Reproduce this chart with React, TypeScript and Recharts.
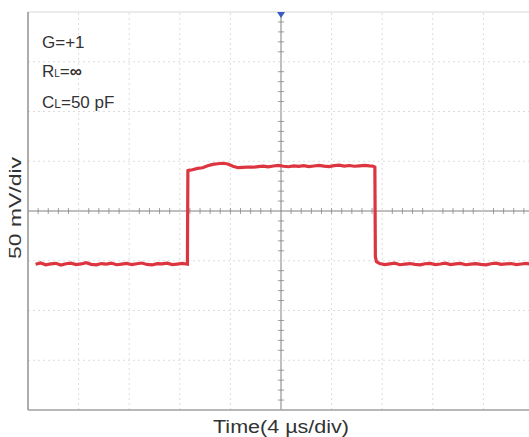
import React from 'react';
import { ComposedChart, Line, XAxis, YAxis, ReferenceLine, ReferenceDot } from 'recharts';

// time in µs, voltage in mV
const timeUs = [
  -19.4, -19.0, -18.6, -18.2, -17.8, -17.4, -17.0, -16.6, -16.2, -15.8,
  -15.4, -15.0, -14.6, -14.2, -13.8, -13.4, -13.0, -12.6, -12.2, -11.8,
  -11.4, -11.0, -10.6, -10.2, -9.8, -9.4, -9.0, -8.6, -8.2, -7.8, -7.4,
  -7.36, -7.3, -7.0, -6.6, -6.2, -5.8, -5.4, -5.0, -4.6, -4.2, -3.8,
  -3.4, -3.0, -2.6, -2.2, -1.8, -1.4, -1.0, -0.6, -0.2, 0.2,
  0.6, 1.0, 1.4, 1.8, 2.2, 2.6, 3.0, 3.4, 3.8, 4.2,
  4.6, 5.0, 5.4, 5.8, 6.2, 6.6, 7.0, 7.3, 7.42, 7.46,
  7.55, 7.8, 8.2, 8.6, 9.0, 9.4, 9.8, 10.2, 10.6, 11.0,
  11.4, 11.8, 12.2, 12.6, 13.0, 13.4, 13.8, 14.2, 14.6, 15.0,
  15.4, 15.8, 16.2, 16.6, 17.0, 17.4, 17.8, 18.2, 18.6, 19.0, 19.4, 19.8,
];
const voltMv = [
  -53.5, -52.2, -54.0, -53.1, -52.6, -54.3, -53.0, -52.4, -53.8, -53.2,
  -52.0, -53.6, -54.1, -52.8, -53.3, -52.5, -54.0, -53.4, -52.7, -53.9,
  -53.0, -52.3, -53.7, -54.2, -52.9, -53.1, -52.4, -53.8, -53.3, -52.7, -53.5,
  40.5, 40.8, 41.5, 42.8, 43.5, 45.5, 46.8, 47.5, 48.0, 47.2, 45.0,
  43.5, 43.8, 44.2, 44.0, 44.6, 45.0, 44.3, 45.2, 45.8, 45.0,
  44.5, 45.3, 44.8, 45.5, 44.6, 45.2, 45.9, 45.1, 44.7, 45.6,
  46.0, 45.2, 45.7, 45.0, 45.4, 45.9, 45.3, 45.0, 44.0, -46.0,
  -51.0, -52.8, -53.9, -53.2, -52.5, -54.0, -53.4, -52.8, -53.6, -54.2,
  -53.0, -52.6, -53.8, -53.3, -52.4, -53.9, -53.1, -52.7, -54.0, -53.4,
  -52.9, -53.7, -54.1, -53.0, -52.5, -53.6, -53.2, -52.8, -53.9, -53.3, -52.6, -53.5,
];

const xTicks = [-20, -16, -12, -8, -4, 0, 4, 8, 12, 16, 20];
const yTicks = [-200, -150, -100, -50, 0, 50, 100, 150, 200];
const xGrid = [-16, -12, -8, -4, 4, 8, 12, 16];
const yGrid = [-150, -100, -50, 50, 100, 150];
const xMinor = [-4.8, -4.0, -3.2, -2.4, -1.6, -0.8, 0.8, 1.6, 2.4, 3.2, 4.0, 4.8,
  -19.2, -18.4, -17.6, -16.8, -15.2, -14.4, -13.6, -12.8, -11.2, -10.4, -9.6, -8.8, -7.2, -6.4, -5.6,
  5.6, 6.4, 7.2, 8.8, 9.6, 10.4, 11.2, 12.8, 13.6, 14.4, 15.2, 16.8, 17.6, 18.4, 19.2];
const yMinor = [-190, -180, -170, -160, -140, -130, -120, -110, -90, -80, -70, -60, -40, -30, -20, -10,
  10, 20, 30, 40, 60, 70, 80, 90, 110, 120, 130, 140, 160, 170, 180, 190];

const data = timeUs.map((t, i) => ({ t, v: voltMv[i] }));

const FONT = '"Liberation Sans", Arial, sans-serif';

const Tri = (props: any) => {
  const { cx, cy } = props;
  return <path d={`M${cx - 4},${cy} L${cx + 4},${cy} L${cx},${cy + 6} Z`} fill="#3b5bc4" />;
};

export default function App() {
  return (
    <div style={{ position: 'fixed', left: 0, top: 0, width: 529, height: 437, overflow: 'hidden', background: '#fff' }}>
      <ComposedChart width={540} height={437} data={data} margin={{ top: 12, right: 6, left: 0, bottom: 0 }}>
        <XAxis
          dataKey="t"
          type="number"
          domain={[-20, 20]}
          ticks={xTicks}
          tick={false}
          tickLine={false}
          axisLine={false}
          height={27}
          allowDataOverflow
          label={(p: any) => {
            const vb = p.viewBox;
            return (
              <text x={vb.x + vb.width / 2} y={433} textAnchor="middle" fontFamily={FONT} fontSize={18} fill="#333" textLength={136} lengthAdjust="spacingAndGlyphs">
                Time(4 µs/div)
              </text>
            );
          }}
        />
        <YAxis
          type="number"
          domain={[-200, 200]}
          ticks={yTicks}
          tick={false}
          tickLine={false}
          axisLine={false}
          width={28}
          allowDataOverflow
          label={(p: any) => {
            const vb = p.viewBox;
            const cy = vb.y + vb.height / 2 - 3;
            return (
              <text x={15} y={cy} textAnchor="middle" dominantBaseline="central" transform={`rotate(-90 15 ${cy})`} fontFamily={FONT} fontSize={16} fill="#333" textLength={102} lengthAdjust="spacingAndGlyphs">
                50 mV/div
              </text>
            );
          }}
        />
        {xGrid.map((g) => (
          <ReferenceLine key={'xg' + g} x={g} stroke="#dcdcdc" strokeDasharray="2 3" />
        ))}
        {yGrid.map((g) => (
          <ReferenceLine key={'yg' + g} y={g} stroke="#dcdcdc" strokeDasharray="2 3" />
        ))}
        {xMinor.map((m) => (
          <ReferenceLine key={'xm' + m} segment={[{ x: m, y: -3 }, { x: m, y: 3 }]} stroke="#a0a0a0" strokeWidth={1} ifOverflow="visible" />
        ))}
        {yMinor.map((m) => (
          <ReferenceLine key={'ym' + m} segment={[{ x: -0.25, y: m }, { x: 0.25, y: m }]} stroke="#a0a0a0" strokeWidth={1} ifOverflow="visible" />
        ))}
        <ReferenceLine x={0} stroke="#808080" strokeWidth={1} />
        <ReferenceLine y={0} stroke="#808080" strokeWidth={1} />
        <ReferenceLine y={200} stroke="#d8d8d8" strokeWidth={1} />
        <ReferenceLine y={-200} stroke="#a0a0a0" strokeWidth={1.5} />
        <ReferenceLine x={-20} stroke="#909090" strokeWidth={1.5} />
        <Line dataKey="v" type="linear" stroke="#dc3540" strokeWidth={3.2} dot={false} isAnimationActive={false} />
        <ReferenceDot x={0} y={200} r={4} shape={Tri} ifOverflow="visible" />
      </ComposedChart>
      <div style={{ position: 'absolute', left: 42, top: 28, fontFamily: FONT, fontSize: 17, color: '#333', lineHeight: '29px' }}>
        <div>G=+1</div>
        <div>R<span style={{ fontSize: 10 }}>L</span>=<b>∞</b></div>
        <div>C<span style={{ fontSize: 12 }}>L</span>=50 pF</div>
      </div>
    </div>
  );
}
